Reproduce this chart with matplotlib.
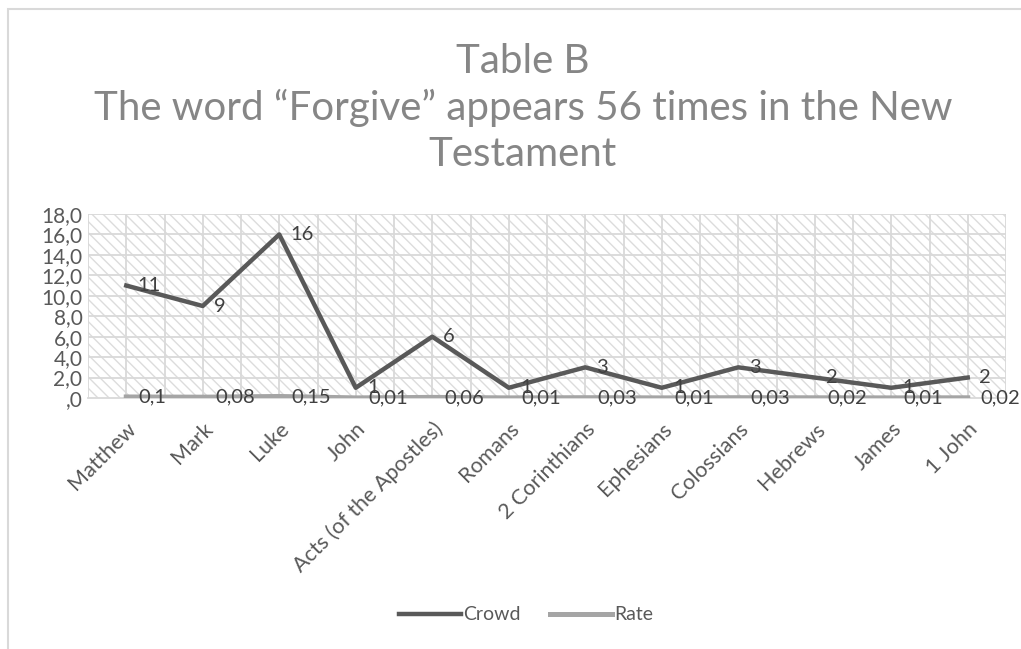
import numpy as np
import matplotlib.pyplot as plt
from matplotlib.patches import Rectangle

plt.rcParams['font.family'] = ['Lato', 'DejaVu Sans']

# DATA
books = ['Matthew', 'Mark', 'Luke', 'John', 'Acts (of the Apostles)', 'Romans',
         '2 Corinthians', 'Ephesians', 'Colossians', 'Hebrews', 'James', '1 John']
crowd = [11, 9, 16, 1, 6, 1, 3, 1, 3, 2, 1, 2]
rate = [0.1, 0.08, 0.15, 0.01, 0.06, 0.01, 0.03, 0.01, 0.03, 0.02, 0.01, 0.02]
y_ticks = [0, 2, 4, 6, 8, 10, 12, 14, 16, 18]
y_labels = [',0', '2,0', '4,0', '6,0', '8,0', '10,0', '12,0', '14,0', '16,0', '18,0']

title = 'Table B\nThe word \u201cForgive\u201d appears 56 times in the New\nTestament'

dark = '#595959'
light = '#a5a5a5'
grid = '#d9d9d9'

fig = plt.figure(figsize=(10.21, 6.49), dpi=100)
fig.patches.append(Rectangle((8/1021, -0.1), 1.2, 1 - 9/649 + 0.1,
                             transform=fig.transFigure, facecolor='none',
                             edgecolor='#d9d9d9', lw=1.5))

ax = fig.add_axes([88/1021, 1 - 398/649, 918/1021, 184/649])
x = np.arange(len(books))

# hatched background
ax.add_patch(Rectangle((0, 0), 1, 1, transform=ax.transAxes, facecolor='white',
                       edgecolor='#dcdcdc', hatch='\\\\\\', lw=0, zorder=0))
for xv in np.arange(-0.5, 11.6, 0.5):
    ax.axvline(xv, color=grid, lw=1.3, zorder=1)
for yv in y_ticks[1:]:
    ax.axhline(yv, color=grid, lw=1.3, zorder=1)

ax.plot(x, crowd, color=dark, lw=3.2, label='Crowd', zorder=4)
ax.plot(x, rate, color=light, lw=3.6, label='Rate', zorder=3)

for xi, c in zip(x, crowd):
    ax.annotate(str(c), (xi, c), xytext=(8, 0), textcoords='offset points',
                ha='left', va='center', fontsize=14.5, color='#404040', zorder=5)
for xi, r in zip(x, rate):
    ax.annotate(('%g' % r).replace('.', ','), (xi, r), xytext=(9, 0),
                textcoords='offset points', ha='left', va='center',
                fontsize=14.5, color='#404040', zorder=5)

ax.set_xlim(-0.5, 11.5)
ax.set_ylim(0, 18)
ax.set_yticks(y_ticks)
ax.set_yticklabels(y_labels, fontsize=15, color=dark)
ax.tick_params(axis='y', length=0, pad=4)
ax.set_xticks(x)
ax.set_xticklabels(books, rotation=45, ha='right', rotation_mode='anchor',
                   fontsize=15.5, color=dark)
ax.tick_params(axis='x', length=0, pad=15)
for s in ['top', 'right', 'left']:
    ax.spines[s].set_visible(False)
ax.spines['bottom'].set_color(grid)
ax.spines['bottom'].set_linewidth(1.3)

fig.text(0.512, 1 - 108/649, title, ha='center', va='center', fontsize=29,
         color='#868686', linespacing=1.3)

fig.legend(loc='center', bbox_to_anchor=(0.515, 1 - 615/649), ncol=2,
           frameon=False, fontsize=14, labelcolor=dark, handlelength=3.2,
           handletextpad=0.1, columnspacing=1.5)

plt.savefig('out.png')
